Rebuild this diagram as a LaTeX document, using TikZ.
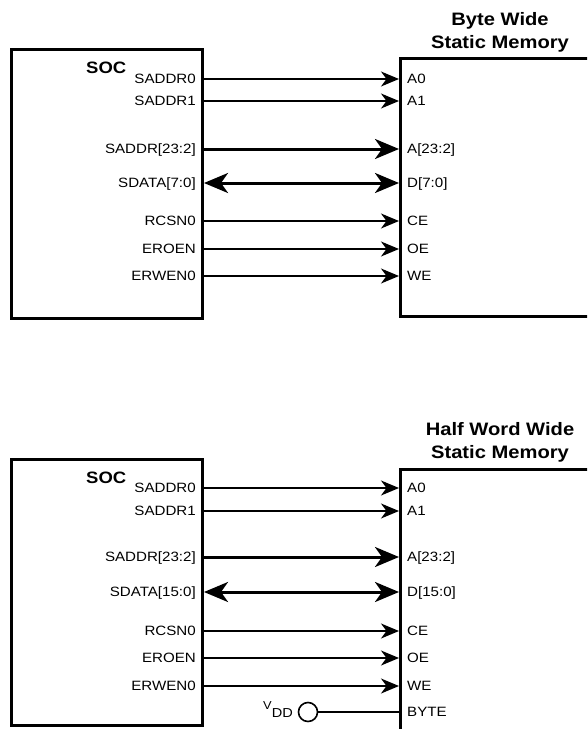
\documentclass[tikz,border=0pt]{standalone}
\usepackage{fontspec}
\setmainfont{Liberation Sans}[FakeStretch=1.12]
\usetikzlibrary{arrows.meta}

\tikzset{
	box/.style={draw, line width=3pt, inner sep=0pt, anchor=north west},
	pin/.style={font=\fontsize{13.5}{15}\selectfont, inner sep=0pt, text height=9.6pt, text depth=0pt},
	socname/.style={font=\fontsize{16.5}{18}\selectfont\bfseries, inner sep=0pt, text height=11.8pt, text depth=0pt, anchor=west},
	memtitle/.style={font=\fontsize{18}{23}\selectfont\bfseries, align=center, inner sep=0pt},
	wire/.style={line width=1.6pt, -{Stealth[length=18pt, width=15pt, inset=5.5pt]}},
	bus/.style={line width=3pt, -{Stealth[length=24pt, width=20pt, inset=7pt]}},
	bibus/.style={line width=3pt, {Stealth[length=24pt, width=20pt, inset=7pt]}-{Stealth[length=24pt, width=20pt, inset=7pt]}},
	pullup/.style={draw, circle, line width=1.6pt, minimum size=19pt, inner sep=0pt}
}

\begin{document}
\begin{tikzpicture}[x=1pt, y=-1pt]
\useasboundingbox (0,0) rectangle (587,729);
\clip (0,0) rectangle (587,729);

% byte wide memory
\node[box, minimum width=191pt, minimum height=269pt] (soc1) at (10,48) {};
\node[box, minimum width=220pt, minimum height=258pt] (mem1) at (399,57) {};
\node[memtitle] (mem1title) at (500,32) {Byte Wide\\Static Memory};
\node[socname] (soc1name) at (86,68) {SOC};

\foreach \y/\s/\m [count=\i] in {79/SADDR0/A0, 101/SADDR1/A1, 221/RCSN0/CE, 249/EROEN/OE, 276/ERWEN0/WE}{
	\node[pin, anchor=east] (s1pin\i) at (196,\y) {\s};
	\node[pin, anchor=west] (m1pin\i) at (407,\y) {\m};
	\draw[wire] (soc1.east |- s1pin\i) -- (mem1.west |- m1pin\i);
}

\node[pin, anchor=east] (s1addr) at (196,149) {SADDR[23:2]};
\node[pin, anchor=west] (m1addr) at (407,149) {A[23:2]};
\draw[bus] (soc1.east |- s1addr) -- (mem1.west |- m1addr);

\node[pin, anchor=east] (s1data) at (196,183) {SDATA[7:0]};
\node[pin, anchor=west] (m1data) at (407,183) {D[7:0]};
\draw[bibus] (soc1.east |- s1data) -- (mem1.west |- m1data);

% half word wide memory
\node[box, minimum width=191pt, minimum height=266pt] (soc2) at (10,458) {};
\node[box, minimum width=220pt, minimum height=290pt] (mem2) at (399,468) {};
\node[memtitle] (mem2title) at (500,442) {Half Word Wide\\Static Memory};
\node[socname] (soc2name) at (86,478) {SOC};

\foreach \y/\s/\m [count=\i] in {488/SADDR0/A0, 511/SADDR1/A1, 631/RCSN0/CE, 658/EROEN/OE, 686/ERWEN0/WE}{
	\node[pin, anchor=east] (s2pin\i) at (196,\y) {\s};
	\node[pin, anchor=west] (m2pin\i) at (407,\y) {\m};
	\draw[wire] (soc2.east |- s2pin\i) -- (mem2.west |- m2pin\i);
}

\node[pin, anchor=east] (s2addr) at (196,557) {SADDR[23:2]};
\node[pin, anchor=west] (m2addr) at (407,557) {A[23:2]};
\draw[bus] (soc2.east |- s2addr) -- (mem2.west |- m2addr);

\node[pin, anchor=east] (s2data) at (196,592) {SDATA[15:0]};
\node[pin, anchor=west] (m2data) at (407,592) {D[15:0]};
\draw[bibus] (soc2.east |- s2data) -- (mem2.west |- m2data);

\node[pullup] (vdd) at (308,712) {};
\node[font=\fontsize{13}{15}\selectfont, inner sep=0pt, anchor=base east] (vddname) at (293,717) {\raisebox{7.5pt}{\fontsize{11.5}{12}\selectfont V}DD};
\node[pin, anchor=west] (m2byte) at (407,712) {BYTE};
\draw[line width=1.6pt] (vdd.east) -- (mem2.west |- m2byte);

\end{tikzpicture}
\end{document}
